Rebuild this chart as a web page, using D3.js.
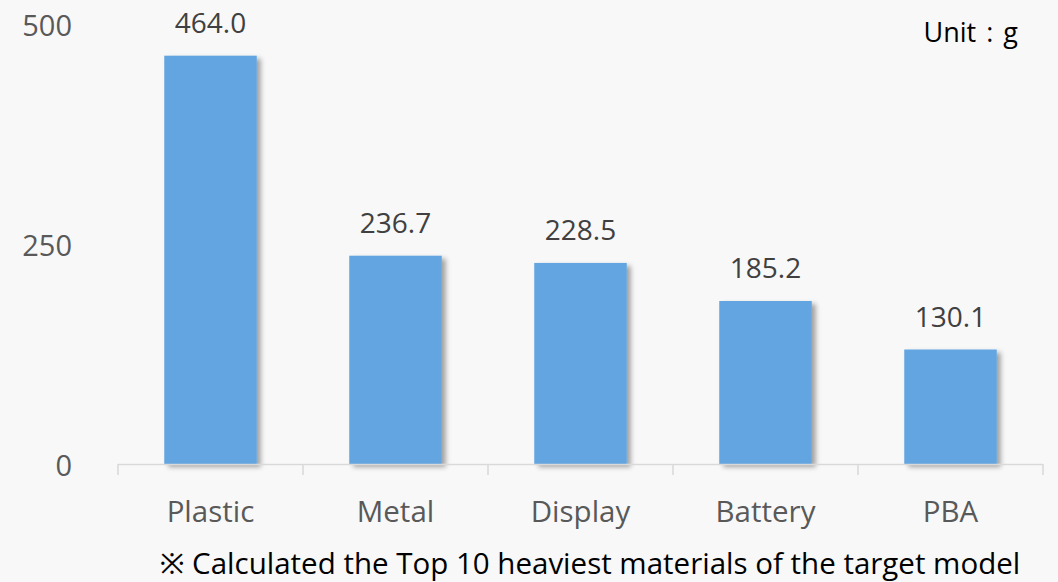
<!DOCTYPE html>
<html><head><meta charset="utf-8">
<script src="https://cdn.jsdelivr.net/npm/d3@7"></script>
<style>
html,body{margin:0;padding:0;background:#f8f8f8;}
svg{display:block;}
</style></head>
<body>
<svg id="chart" width="1058" height="582"></svg>
<script>
const categories = ["Plastic", "Metal", "Display", "Battery", "PBA"];
const values = [464.0, 236.7, 228.5, 185.2, 130.1];
const yTicks = [0, 250, 500];
const unitLabel = "Unit : g";
const footnote = "※ Calculated the Top 10 heaviest materials of the target model";

const W = 1058, H = 582;
const svg = d3.select("#chart");
const font = "'Open Sans', 'Noto Sans', sans-serif";
const fw = 400;

const defs = svg.append("defs");
const f = defs.append("filter").attr("id","shadow").attr("x","-20%").attr("y","-20%").attr("width","150%").attr("height","150%");
f.append("feDropShadow").attr("dx",4).attr("dy",3).attr("stdDeviation",2.5).attr("flood-color","#000").attr("flood-opacity",0.35);

const x = d3.scaleBand().domain(categories).range([118, 1043]).paddingInner(0.5).paddingOuter(0.25);
const y = d3.scaleLinear().domain([0, 500]).range([464, 24]);

// bars
svg.append("g").selectAll("rect").data(values).join("rect")
  .attr("x", (d,i)=>x(categories[i]))
  .attr("y", d=>y(d))
  .attr("width", x.bandwidth())
  .attr("height", d=>y(0)-y(d))
  .attr("fill", "#62a5e0")
  .attr("filter","url(#shadow)");

// x axis line and ticks
const ax = svg.append("g");
ax.append("line").attr("x1",118).attr("x2",1043).attr("y1",y(0)+0.5).attr("y2",y(0)+0.5)
  .attr("stroke","#d9d9d9").attr("stroke-width",1.5);
const bounds = d3.range(categories.length+1).map(i=>x(categories[0]) - x.step()*x.paddingOuter() + i*x.step());
ax.selectAll("line.tk").data(bounds).join("line").attr("class","tk")
  .attr("x1",d=>d).attr("x2",d=>d).attr("y1",y(0)).attr("y2",y(0)+11)
  .attr("stroke","#d9d9d9").attr("stroke-width",1.5);

// category labels
svg.append("g").selectAll("text").data(categories).join("text")
  .attr("x", d=>x(d)+x.bandwidth()/2)
  .attr("y", 522)
  .attr("text-anchor","middle")
  .attr("font-family",font).attr("font-weight",fw).attr("font-size",29.5).attr("fill","#595959")
  .text(d=>d);

// y labels
svg.append("g").selectAll("text").data(yTicks).join("text")
  .attr("x", 72)
  .attr("y", d=>y(d)+12)
  .attr("text-anchor","end")
  .attr("font-family",font).attr("font-weight",fw).attr("font-size",29).attr("fill","#595959")
  .text(d=>d);

// value labels
svg.append("g").selectAll("text").data(values).join("text")
  .attr("x", (d,i)=>x(categories[i])+x.bandwidth()/2)
  .attr("y", d=>y(d)-23)
  .attr("text-anchor","middle")
  .attr("font-family",font).attr("font-weight",fw).attr("font-size",28).attr("fill","#404040")
  .text(d=>d.toFixed(1));

// unit
svg.append("text").attr("x",1018).attr("y",42).attr("text-anchor","end")
  .attr("font-family",font).attr("font-weight",fw).attr("font-size",27).attr("fill","#000")
  .attr("word-spacing",3).text(unitLabel);

// footnote
svg.append("text").attr("x",590).attr("y",574).attr("text-anchor","middle")
  .attr("font-family",font).attr("font-weight",fw).attr("font-size",29.5).attr("fill","#000").text(footnote);
</script>
</body></html>
